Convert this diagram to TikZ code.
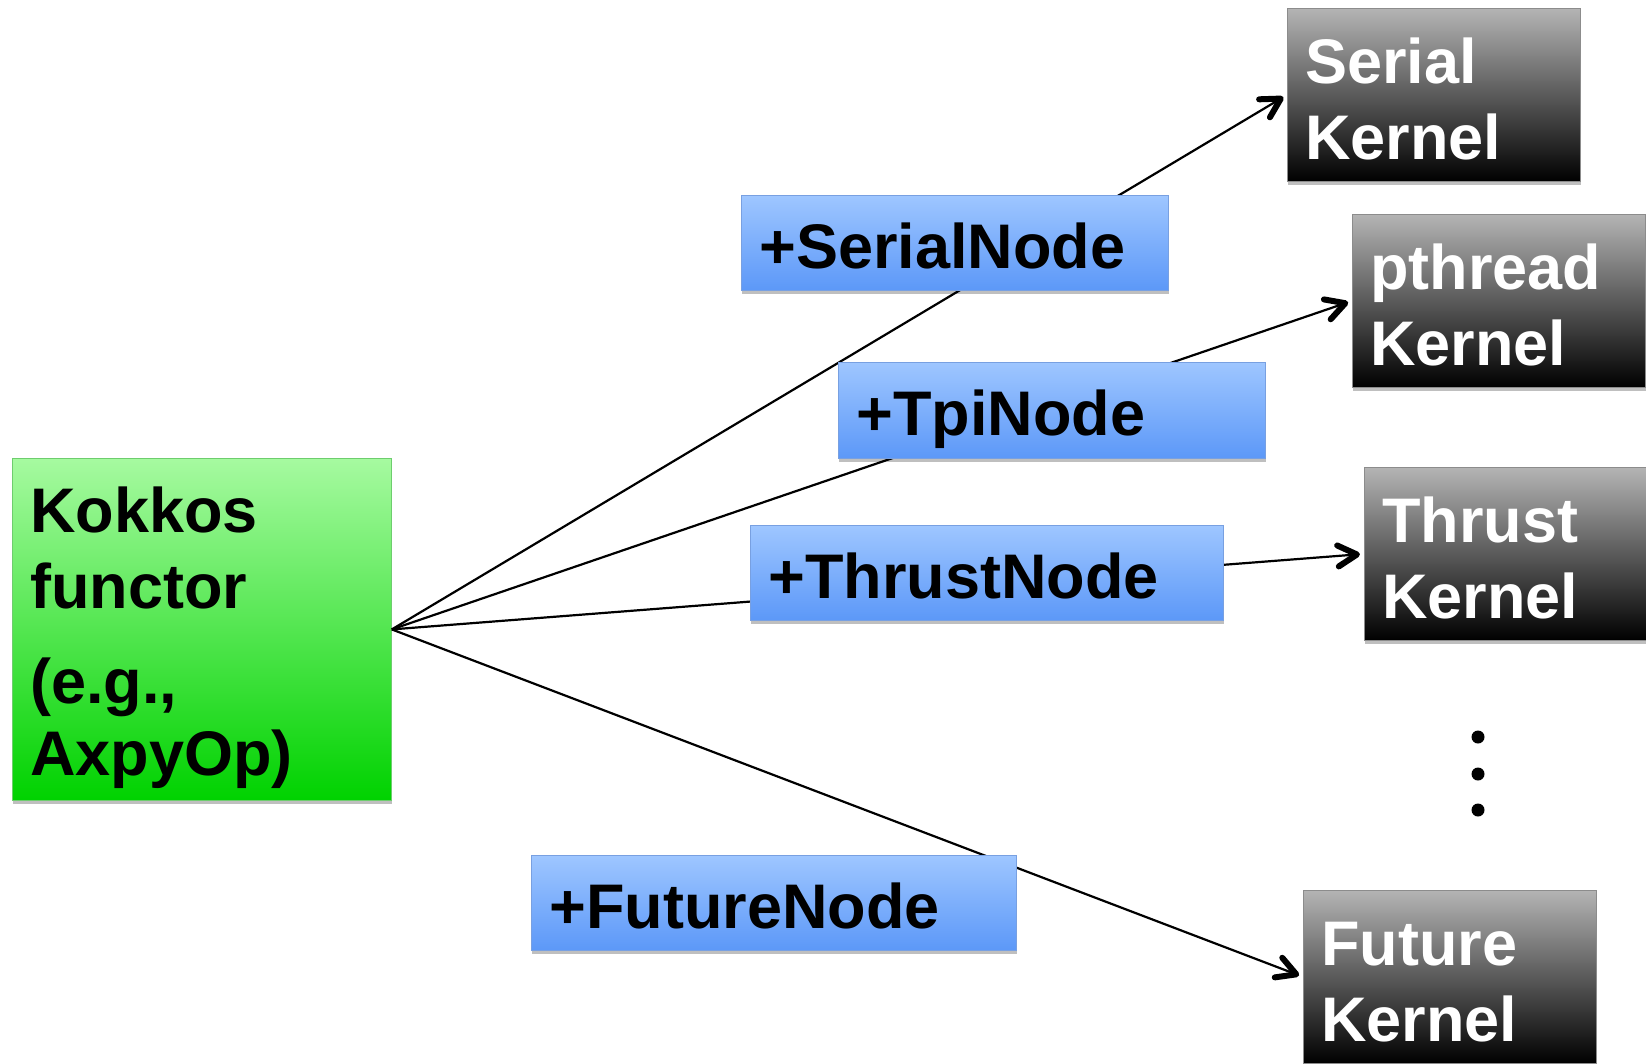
\documentclass[tikz,border=0pt]{standalone}
\usepackage{fontspec}
\setmainfont{Liberation Sans}
\usetikzlibrary{calc,shadows,decorations.markings}
\definecolor{gtop}{RGB}{166,250,160}
\definecolor{gbot}{RGB}{0,210,0}
\definecolor{gedge}{RGB}{110,205,110}
\definecolor{btop}{RGB}{158,198,255}
\definecolor{bbot}{RGB}{92,152,248}
\definecolor{bedge}{RGB}{120,160,225}
\definecolor{ktop}{RGB}{180,180,180}
\definecolor{kbot}{RGB}{0,0,0}
\begin{document}
\begin{tikzpicture}[x=1pt,y=-1pt,
  txt/.style={font=\fontsize{63}{76}\selectfont\bfseries, align=left, inner xsep=18pt, inner ysep=0pt, anchor=north west},
  greenbox/.style={txt, rectangle, top color=gtop, bottom color=gbot, draw=gedge, line width=0.8pt,
     drop shadow={shadow xshift=1pt, shadow yshift=-4pt, opacity=0.25, fill=black}},
  bluebox/.style={txt, rectangle, top color=btop, bottom color=bbot, draw=bedge, line width=0.8pt,
     text height=51pt, text depth=0pt, minimum height=95pt,
     drop shadow={shadow xshift=1pt, shadow yshift=-4pt, opacity=0.25, fill=black}},
  kernbox/.style={txt, rectangle, top color=ktop, bottom color=kbot, draw=black!45, line width=0.8pt,
     text=white, text height=54pt, text depth=76pt, minimum height=173pt, minimum width=293pt, text width=257pt,
     drop shadow={shadow xshift=1pt, shadow yshift=-4pt, opacity=0.25, fill=black}},
  conn/.style={line width=2.2pt,
     postaction={decorate, decoration={markings, mark=at position 1 with {
       \draw[line width=6pt, line cap=round, line join=round] (-19pt,10.5pt) -- (0pt,0pt) -- (-19pt,-10.5pt);}}}}
]
\useasboundingbox (0,0) rectangle (1646,1063);
\clip (0,0) rectangle (1646,1063);

% left functor box
\node[greenbox, minimum width=379pt, minimum height=342pt, text width=343pt, text height=49pt, text depth=243pt]
  (kf) at (12,458) {Kokkos\\functor\\[19pt](e.g.,\\[-4pt]AxpyOp)};

% kernels
\node[kernbox] (sk) at (1287,8) {Serial\\Kernel};
\node[kernbox] (pk) at (1352,214) {pthread\\Kernel};
\node[kernbox] (tk) at (1364,467) {Thrust\\Kernel};
\node[kernbox] (fk) at (1303,890) {Future\\Kernel};

% connectors
\draw[conn] (kf.east) -- ($(sk.west)!7pt!(kf.east)$);
\draw[conn] (kf.east) -- ($(pk.west)!7pt!(kf.east)$);
\draw[conn] (kf.east) -- ($(tk.west)!7pt!(kf.east)$);
\draw[conn] (kf.east) -- ($(fk.west)!7pt!(kf.east)$);

% node boxes over the connectors
\node[bluebox, minimum width=427pt, text width=391pt] (sn) at (741,195) {+SerialNode};
\node[bluebox, minimum width=427pt, text width=391pt, minimum height=96pt] (tn) at (838,362) {+TpiNode};
\node[bluebox, minimum width=473pt, text width=437pt] (thn) at (750,525) {+ThrustNode};
\node[bluebox, minimum width=485pt, text width=449pt] (fn) at (531,855) {+FutureNode};

% vertical ellipsis
\fill (1478,737) circle (6.5pt);
\fill (1478,774) circle (6.5pt);
\fill (1478,810) circle (6.5pt);
\end{tikzpicture}
\end{document}
